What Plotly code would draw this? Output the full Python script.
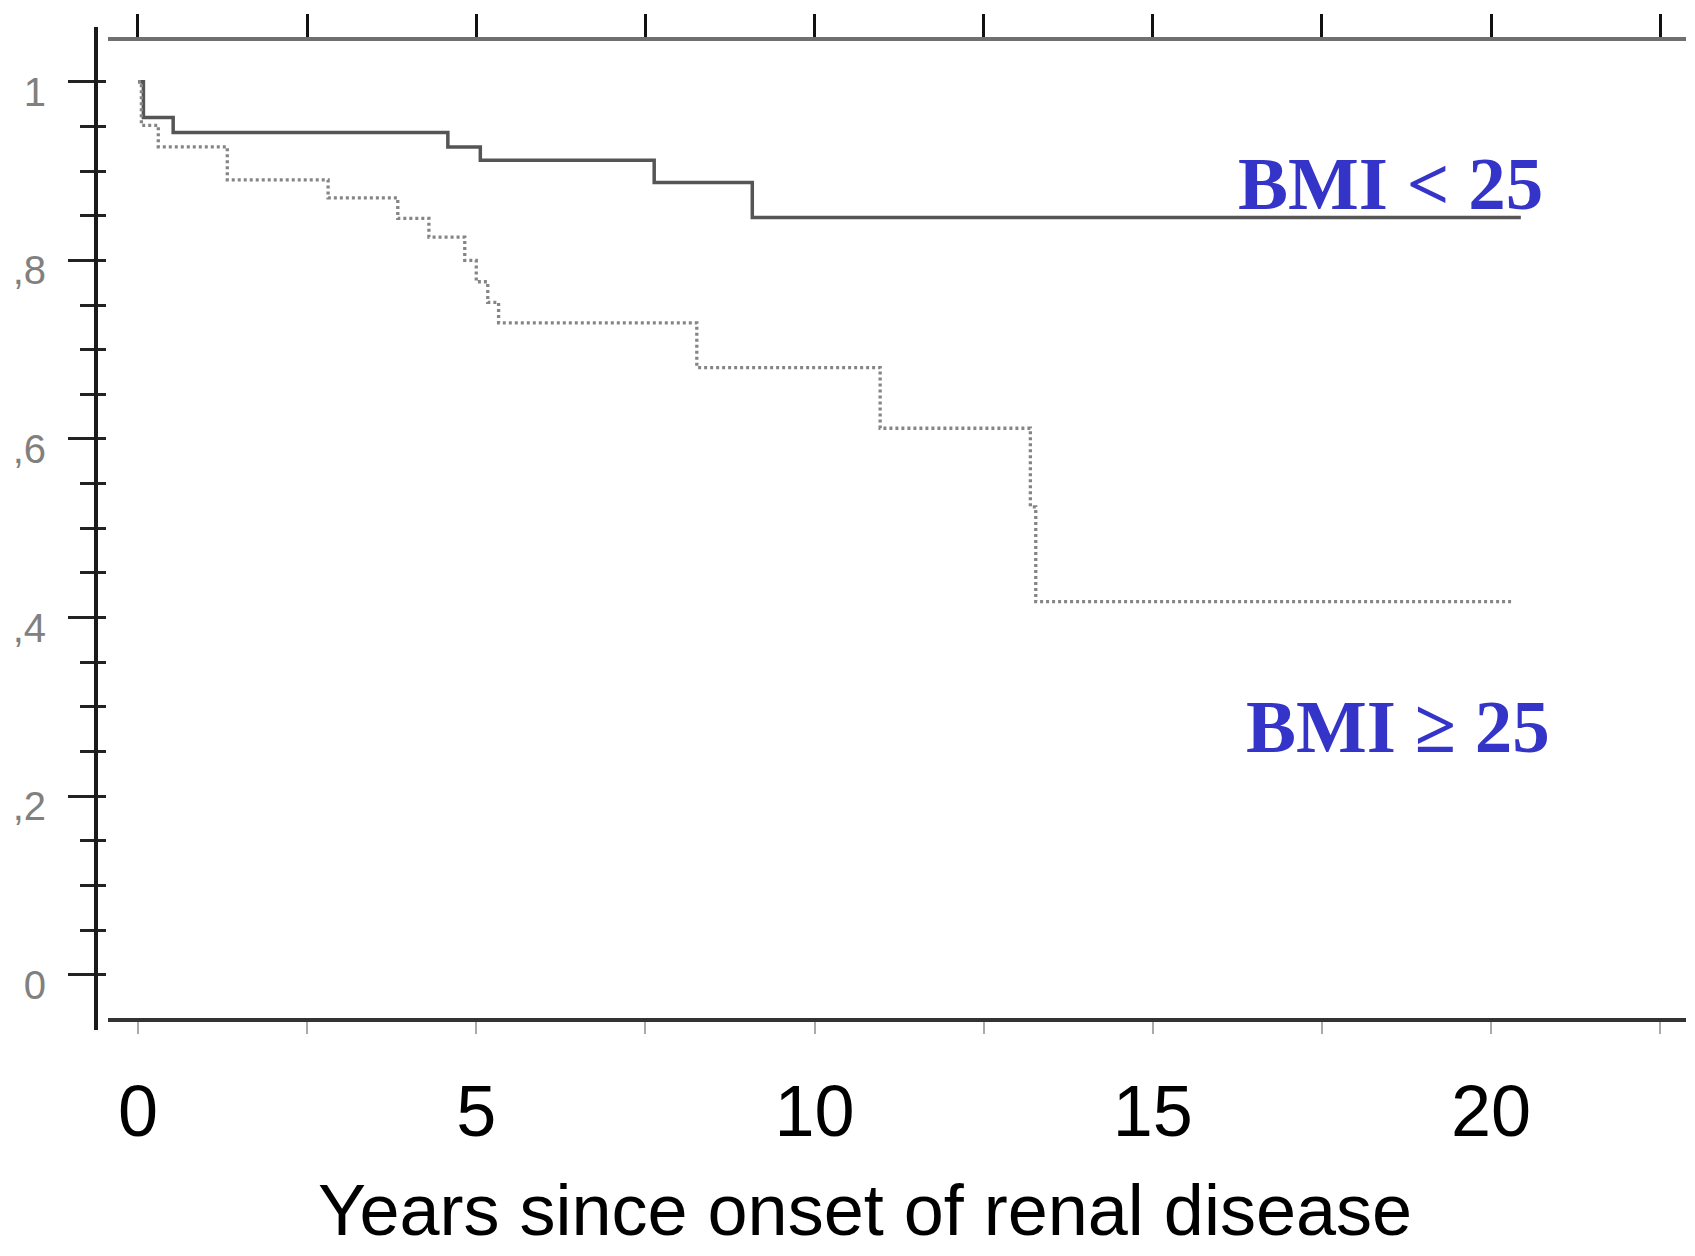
import plotly.graph_objects as go

# ---- data ----
bmi_low_years = [0, 0.08, 0.52, 4.58, 5.06, 7.63, 9.08, 20.44]
bmi_low_surv = [1.0, 0.960, 0.943, 0.927, 0.912, 0.887, 0.848, 0.848]

bmi_high_years = [0, 0.05, 0.30, 1.32, 2.81, 3.84, 4.30, 4.83, 5.00, 5.17, 5.33,
                  8.26, 10.97, 13.19, 13.27, 20.33]
bmi_high_surv = [1.0, 0.951, 0.927, 0.890, 0.870, 0.847, 0.826, 0.800, 0.776, 0.753, 0.730,
                 0.680, 0.612, 0.524, 0.418, 0.418]

x_tick_vals = [0, 2.5, 5, 7.5, 10, 12.5, 15, 17.5, 20, 22.5]
x_tick_text = ["0", "", "5", "", "10", "", "15", "", "20", ""]
y_tick_vals = [0, 0.2, 0.4, 0.6, 0.8, 1.0]
y_tick_text = ["0", ",2", ",4", ",6", ",8", "1"]
y_minor_vals = [i * 0.05 for i in range(21)]

label_low = "BMI &lt; 25"
label_high = "BMI ≥ 25"
x_title = "Years since onset of renal disease"

W, H = 1695, 1256
ML, MR, MT, MB = 96, 0, 27, 226

x_range = [-0.4435, 22.882]
y_range = [-0.0616, 1.0612]

fig = go.Figure()
fig.add_trace(go.Scatter(
    x=bmi_low_years, y=bmi_low_surv, mode="lines", line_shape="hv",
    line=dict(color="#555555", width=3.5), showlegend=False, hoverinfo="skip"))
fig.add_trace(go.Scatter(
    x=bmi_high_years, y=bmi_high_surv, mode="lines", line_shape="hv",
    line=dict(color="#858585", width=3.3, dash="3px,3px"), showlegend=False, hoverinfo="skip"))
# helper (empty) traces so that the overlay axes (top frame, inner y ticks) get drawn
fig.add_trace(go.Scatter(x=[None], y=[None], xaxis="x2", yaxis="y", mode="lines",
                         showlegend=False, hoverinfo="skip"))
fig.add_trace(go.Scatter(x=[None], y=[None], xaxis="x", yaxis="y2", mode="lines",
                         showlegend=False, hoverinfo="skip"))

fig.update_layout(
    width=W, height=H,
    margin=dict(l=ML, r=MR, t=MT, b=MB, pad=0),
    paper_bgcolor="white", plot_bgcolor="white",
    showlegend=False,
    xaxis=dict(
        domain=[0.0075, 0.9944], range=x_range, anchor="free", position=0.00997,
        showgrid=False, zeroline=False,
        showline=True, linecolor="#333333", linewidth=4,
        tickvals=x_tick_vals, ticktext=x_tick_text,
        ticks="outside", ticklen=12, tickwidth=2, tickcolor="#aaaaaa",
        tickfont=dict(family="Liberation Sans, Arial, sans-serif", size=72, color="black"),
        ticklabelstandoff=16,
    ),
    xaxis2=dict(
        overlaying="x", side="top", range=x_range, anchor="free", position=0.988,
        showgrid=False, zeroline=False,
        showline=True, linecolor="#707070", linewidth=4,
        tickvals=x_tick_vals, showticklabels=False,
        ticks="outside", ticklen=23, tickwidth=3, tickcolor="#111111",
    ),
    yaxis=dict(
        range=y_range, anchor="free", position=0,
        showgrid=False, zeroline=False,
        showline=True, linecolor="#1a1a1a", linewidth=4,
        tickvals=y_tick_vals, ticktext=y_tick_text,
        ticks="outside", ticklen=26, tickwidth=3, tickcolor="#222222",
        minor=dict(tickvals=y_minor_vals, ticks="outside", ticklen=14, tickwidth=3,
                   tickcolor="#222222", showgrid=False),
        tickfont=dict(family="Liberation Sans, Arial, sans-serif", size=40, color="#808080"),
        ticklabelstandoff=14, ticklabelshift=10,
    ),
    yaxis2=dict(
        overlaying="y", range=y_range, anchor="free", position=0,
        showgrid=False, zeroline=False, showline=False,
        tickvals=y_minor_vals, showticklabels=False,
        ticks="inside", ticklen=9, tickwidth=3, tickcolor="#222222",
    ),
)

fig.add_annotation(
    x=18.51, y=0.8855, xref="x", yref="y", text=f"<b>{label_low}</b>", showarrow=False,
    font=dict(family="Liberation Serif, Times New Roman, serif", size=75, color="#3434c8"),
    xanchor="center", yanchor="middle")
fig.add_annotation(
    x=18.63, y=0.2787, xref="x", yref="y", text=f"<b>{label_high}</b>", showarrow=False,
    font=dict(family="Liberation Serif, Times New Roman, serif", size=75, color="#3434c8"),
    xanchor="center", yanchor="middle")
fig.add_annotation(
    x=(865 - ML) / (W - ML - MR), y=(1030 - 1210) / (1030 - 27), xref="paper", yref="paper",
    text=x_title, showarrow=False,
    font=dict(family="Liberation Sans, Arial, sans-serif", size=72, color="black"),
    xanchor="center", yanchor="middle")

fig.write_html("out.html")
